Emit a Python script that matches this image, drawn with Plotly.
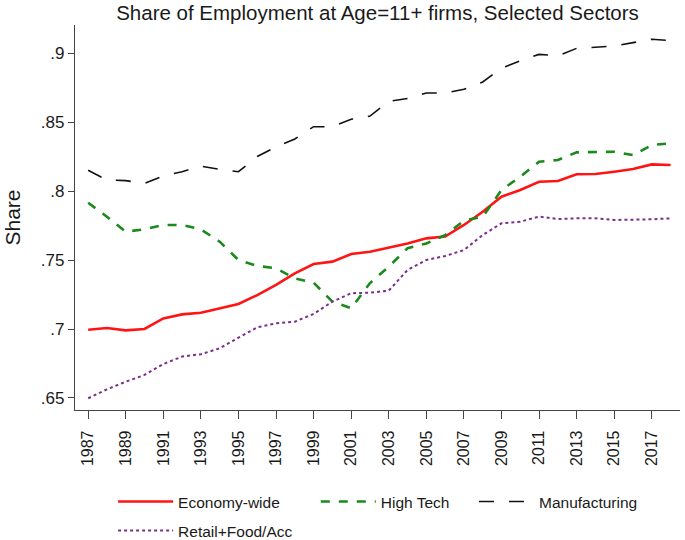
import plotly.graph_objects as go

years = list(range(1987, 2019))

economy_wide = [0.6995, 0.7007, 0.699, 0.700, 0.7077, 0.7106, 0.7118, 0.715, 0.7181, 0.7246,
                0.7319, 0.7403, 0.7471, 0.7488, 0.7543, 0.756, 0.759, 0.762, 0.7657, 0.767,
                0.7754, 0.785, 0.7959, 0.8007, 0.8067, 0.8072, 0.8121, 0.8123, 0.814, 0.816,
                0.8193, 0.8188]

high_tech = [0.7915, 0.7814, 0.7705, 0.7722, 0.7754, 0.7754, 0.7722, 0.7633, 0.750, 0.7457,
             0.744, 0.7367, 0.7336, 0.7198, 0.715, 0.7333, 0.7452, 0.7585, 0.762, 0.768,
             0.7785, 0.7814, 0.8007, 0.8104, 0.8212, 0.8225, 0.828, 0.828, 0.8285, 0.826,
             0.8333, 0.8346]

manufacturing = [0.815, 0.808, 0.8075, 0.8055, 0.811, 0.814, 0.818, 0.8157, 0.814, 0.825,
                 0.832, 0.8377, 0.8466, 0.8466, 0.852, 0.8543, 0.865, 0.867, 0.871, 0.871,
                 0.8737, 0.879, 0.889, 0.8944, 0.899, 0.898, 0.9034, 0.904, 0.905, 0.9075,
                 0.910, 0.909]

retail_food_acc = [0.6498, 0.6563, 0.6618, 0.6667, 0.6746, 0.680, 0.6817, 0.686, 0.6937, 0.7012,
                   0.7041, 0.7053, 0.7109, 0.7198, 0.7259, 0.7263, 0.7278, 0.7428, 0.750, 0.7529,
                   0.7572, 0.7681, 0.7766, 0.7778, 0.7814, 0.7797, 0.7802, 0.7802, 0.779, 0.779,
                   0.7795, 0.7802]

x_ticks = list(range(1987, 2019, 2))
y_ticks = [0.65, 0.7, 0.75, 0.8, 0.85, 0.9]
y_tick_labels = [".65", ".7", ".75", ".8", ".85", ".9"]

FONT = "Liberation Sans, Arial, sans-serif"
TXT = "#1a1a1a"

fig = go.Figure()
fig.add_trace(go.Scatter(x=years, y=economy_wide, mode="lines", name="Economy-wide",
                         line=dict(color="#ff1414", width=2.6), legend="legend"))
fig.add_trace(go.Scatter(x=years, y=high_tech, mode="lines", name="High Tech",
                         line=dict(color="#1a8a1a", width=2.6, dash="dash"), legend="legend2"))
fig.add_trace(go.Scatter(x=years, y=manufacturing, mode="lines", name="Manufacturing",
                         line=dict(color="#111111", width=1.6, dash="longdash"), legend="legend3"))
fig.add_trace(go.Scatter(x=years, y=retail_food_acc, mode="lines", name="Retail+Food/Acc",
                         line=dict(color="#7d2e8d", width=2.0, dash="dot"), legend="legend4"))

def leg(x, y):
    return dict(orientation="h", x=x, xanchor="left", y=y, yref="container", yanchor="middle",
                font=dict(size=15.5, family=FONT, color=TXT), itemwidth=55,
                bgcolor="rgba(0,0,0,0)")

fig.update_layout(
    width=685, height=540,
    margin=dict(l=75, r=5, t=25, b=130, autoexpand=False),
    paper_bgcolor="white", plot_bgcolor="white",
    font=dict(family=FONT, color=TXT),
    title=dict(text="Share of Employment at Age=11+ firms, Selected Sectors",
               x=0.5, xref="paper", y=0.989, yref="container", yanchor="top",
               font=dict(size=20.5, family=FONT, color=TXT)),
    showlegend=True,
    legend=leg(0.063, 0.0704),
    legend2=leg(0.398, 0.0704),
    legend3=leg(0.6595, 0.0704),
    legend4=leg(0.063, 0.0167),
)

fig.update_xaxes(range=[1986.3, 2018.5], tickvals=x_ticks, tickangle=-90,
                 ticks="outside", ticklen=8, tickcolor="#444444",
                 showline=True, linecolor="#444444", linewidth=1.2,
                 showgrid=False, zeroline=False, ticklabelstandoff=5,
                 tickfont=dict(size=16, family=FONT, color=TXT))
fig.update_yaxes(range=[0.6413, 0.9203], tickvals=y_ticks, ticktext=y_tick_labels,
                 ticks="outside", ticklen=6, tickcolor="#444444",
                 showline=True, linecolor="#444444", linewidth=1.2,
                 showgrid=False, zeroline=False,
                 title=dict(text="Share", font=dict(size=21, family=FONT, color=TXT), standoff=14),
                 tickfont=dict(size=17, family=FONT, color=TXT))

fig.write_html("out.html", config={"displayModeBar": False},
               post_script="document.body.style.margin='0px';")
